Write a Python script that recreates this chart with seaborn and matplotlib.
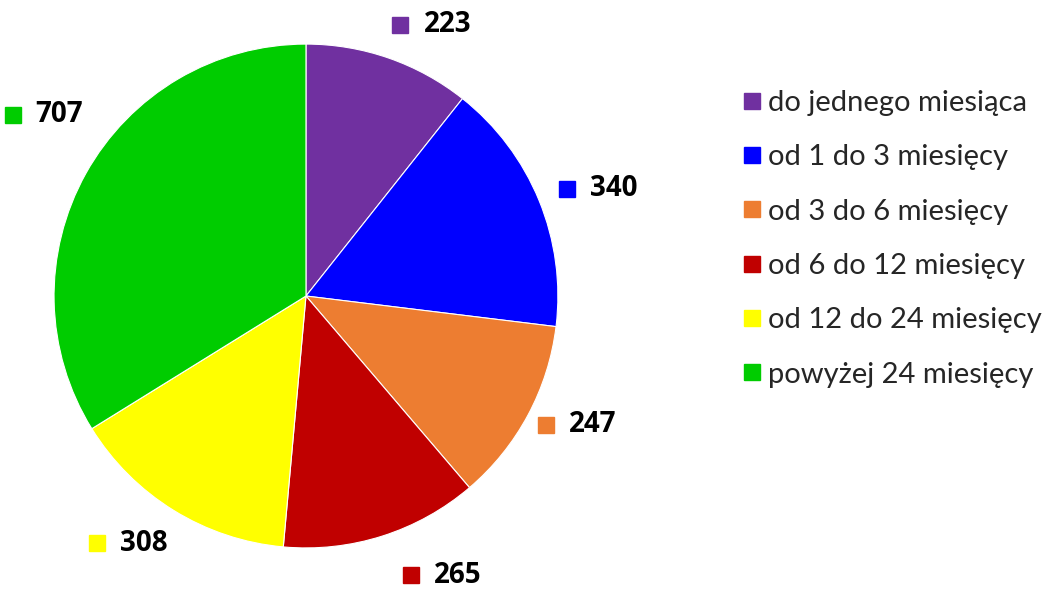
import numpy as np
import matplotlib
matplotlib.use("Agg")
import matplotlib.pyplot as plt
import seaborn as sns
from matplotlib.lines import Line2D

# dane
categories = ["do jednego miesiąca", "od 1 do 3 miesięcy", "od 3 do 6 miesięcy",
              "od 6 do 12 miesięcy", "od 12 do 24 miesięcy", "powyżej 24 miesięcy"]
values = [223, 340, 247, 265, 308, 707]
colors = ["#7030A0", "#0000FF", "#ED7D31", "#C00000", "#FFFF00", "#00CC00"]

sns.set_theme(style="white")
plt.rcParams['font.family'] = ['Lato', 'DejaVu Sans']

fig = plt.figure(figsize=(10.46, 5.90), dpi=100)
ax = fig.add_axes([0, 0, 1, 1])

wedges, _ = ax.pie(values, colors=colors, startangle=90, counterclock=False,
                   radius=1.0, center=(0, 0), frame=True,
                   wedgeprops=dict(edgecolor="white", linewidth=0.8))
ax.set_xlim(-1.214, 2.937)
ax.set_ylim(-1.167, 1.175)
ax.set_aspect("equal")
ax.axis("off")

# etykiety z wartosciami (kwadrat + liczba), polozenie wg kata srodka wycinka
px = 1 / 252.0  # 1 piksel w jednostkach danych
fig.canvas.draw()
renderer = fig.canvas.get_renderer()
nudge = [0, 0, 0, 3, 2.5, -10]   # drobne przesuniecie katowe (stopnie)
dist = [1.14, 1.12, 1.08, 1.185, 1.125, 1.14]
for w, v, c, dn, r in zip(wedges, values, colors, nudge, dist):
    ang = np.deg2rad((w.theta1 + w.theta2) / 2 + dn)
    x, y = r * np.cos(ang), r * np.sin(ang)
    t = ax.text(x, y, str(v), fontsize=20, fontweight="bold", color="black",
                family=["Open Sans", "DejaVu Sans"], va="center", ha="left")
    tw = t.get_window_extent(renderer).width * px
    if np.cos(ang) >= 0:
        sq = x
        t.set_x(x + 23 * px)
    else:
        t.set_x(x - tw)
        sq = x - tw - 23 * px
    ax.plot(sq, y, marker="s", markersize=12, color=c, linestyle="none", clip_on=False)

# legenda
handles = [Line2D([0], [0], marker="s", color=c, linestyle="none", markersize=12) for c in colors]
fig.legend(handles, categories, loc="upper left", bbox_to_anchor=(0.697, 0.872),
           frameon=False, fontsize=21, handlelength=0.6, handletextpad=0.25,
           labelspacing=0.97, borderpad=0)

plt.savefig("out.png", dpi=100)
